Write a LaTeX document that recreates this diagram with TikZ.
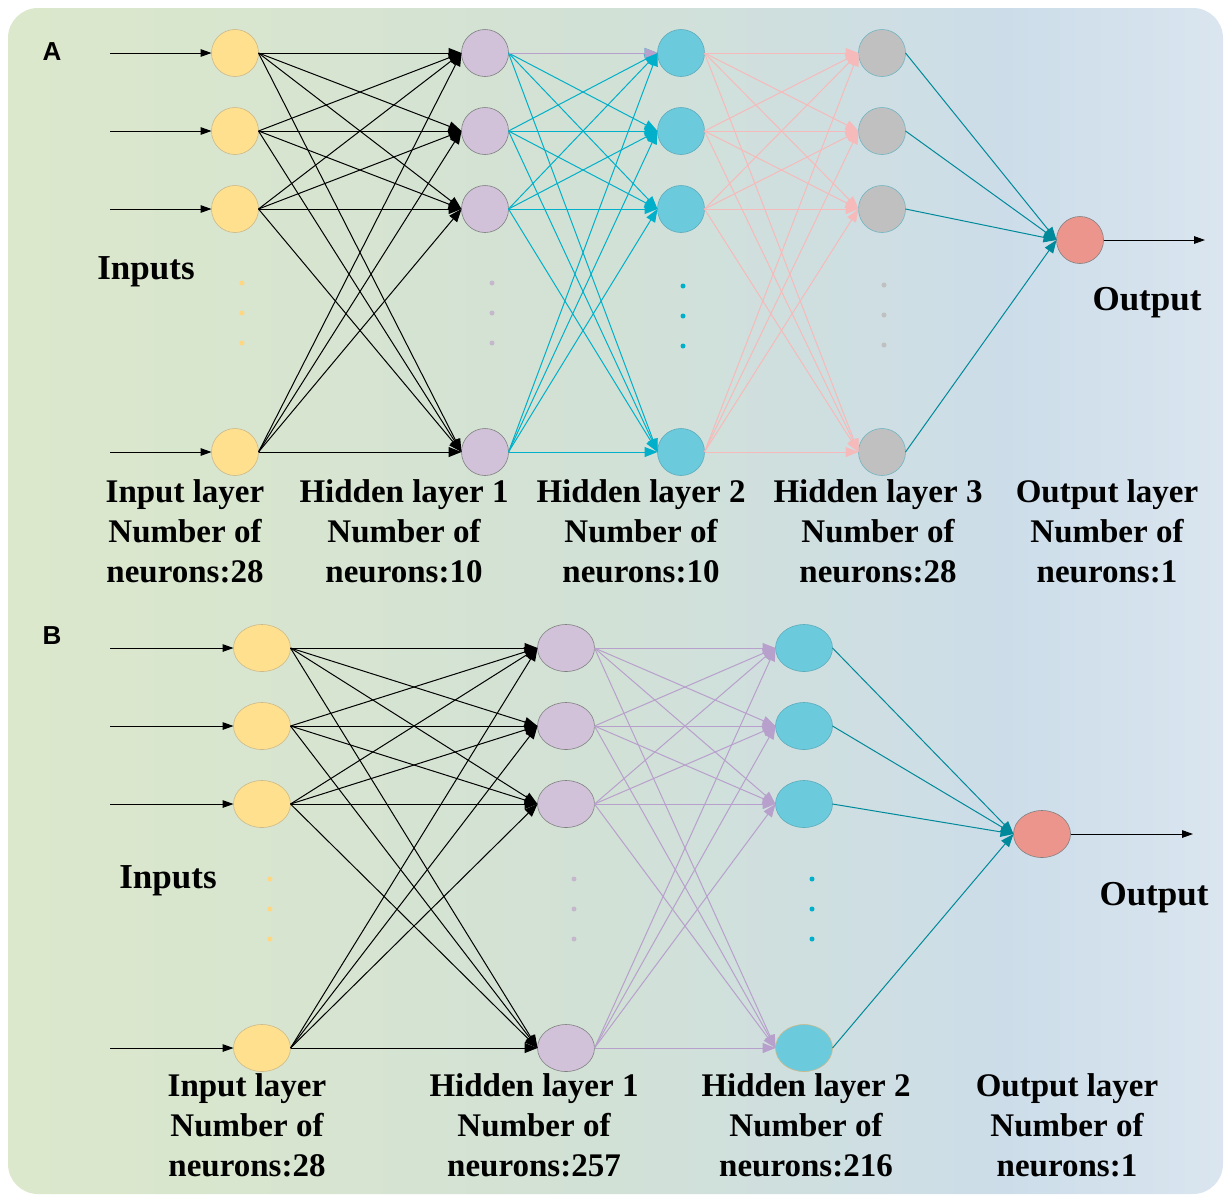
\documentclass[tikz,border=0pt]{standalone}
\usepackage{fontspec}
\setmainfont{Liberation Serif}
\setsansfont{Liberation Sans}
\usetikzlibrary{arrows.meta,shapes.geometric}
\definecolor{colorin}{RGB}{255,224,143}
\definecolor{colorhp}{RGB}{209,194,218}
\definecolor{colorhc}{RGB}{108,202,221}
\definecolor{colorhg}{RGB}{192,192,192}
\definecolor{colorout}{RGB}{236,149,140}
\definecolor{edgecyan}{RGB}{0,176,202}
\definecolor{edgepink}{RGB}{246,186,186}
\definecolor{edgepurple}{RGB}{184,160,204}
\definecolor{edgeteal}{RGB}{0,137,154}
\definecolor{bgA}{RGB}{220,232,203}
\definecolor{bgB}{RGB}{210,225,213}
\definecolor{bgC}{RGB}{204,221,233}
\definecolor{bgD}{RGB}{218,229,239}
\pgfdeclarehorizontalshading{bgshade}{100bp}{color(0bp)=(bgA); color(25bp)=(bgA);
  color(49bp)=(bgB); color(66bp)=(bgC); color(75bp)=(bgD); color(100bp)=(bgD)}

\begin{document}
\begin{tikzpicture}[x=0.5pt,y=-0.5pt,
  every node/.style={inner sep=0pt, outer sep=0pt},
  neuron/.style={circle, minimum size=23.5pt, line width=0.3pt},
  oval/.style={ellipse, minimum width=28.5pt, minimum height=23.5pt, line width=0.3pt},
  edge/.style={line width=0.5pt, -{Triangle[length=6.5pt,width=5pt]}},
  inarrow/.style={line width=0.5pt, -{Triangle[length=5.5pt,width=3.8pt]}},
  layerlabel/.style={align=center, font=\bfseries\fontsize{16.5}{20}\selectfont},
  biglabel/.style={font=\bfseries\fontsize{17.5}{21}\selectfont},
  panel/.style={font=\sffamily\bfseries\fontsize{13}{15}\selectfont}]

\useasboundingbox (0,0) rectangle (1225,1195);
\shade[shading=bgshade, rounded corners=15pt] (8,8) rectangle (1223,1194);

% ---- A ----
\node[panel] (labA) at (52,52) {A};
\node[neuron, fill=colorin, draw=colorin!60!gray] (a0-1) at (235,53) {};
\node[neuron, fill=colorin, draw=colorin!60!gray] (a0-2) at (235,131) {};
\node[neuron, fill=colorin, draw=colorin!60!gray] (a0-3) at (235,209) {};
\node[neuron, fill=colorin, draw=colorin!60!gray] (a0-4) at (235,452) {};

\node[neuron, fill=colorhp, draw=gray] (a1-1) at (485,53) {};
\node[neuron, fill=colorhp, draw=gray] (a1-2) at (485,131) {};
\node[neuron, fill=colorhp, draw=gray] (a1-3) at (485,209) {};
\node[neuron, fill=colorhp, draw=gray] (a1-4) at (485,452) {};

\node[neuron, fill=colorhc, draw=colorhc!85!black] (a2-1) at (681,53) {};
\node[neuron, fill=colorhc, draw=colorhc!85!black] (a2-2) at (681,131) {};
\node[neuron, fill=colorhc, draw=colorhc!85!black] (a2-3) at (681,209) {};
\node[neuron, fill=colorhc, draw=colorhc!85!black] (a2-4) at (681,452) {};

\node[neuron, fill=colorhg, draw=colorhc!70!gray] (a3-1) at (882,53) {};
\node[neuron, fill=colorhg, draw=colorhc!70!gray] (a3-2) at (882,131) {};
\node[neuron, fill=colorhg, draw=colorhc!70!gray] (a3-3) at (882,209) {};
\node[neuron, fill=colorhg, draw=colorhc!70!gray] (a3-4) at (882,452) {};

\node[neuron, fill=colorout, draw=gray] (a4) at (1080,240) {};

\foreach \i/\y in {1/53,2/131,3/209,4/452}{
  \coordinate (ain\i) at (110,\y);
  \draw[inarrow] (ain\i) -- (a0-\i);
}
\coordinate (aout) at (1205,240);
\draw[inarrow] (a4) -- (aout);

\foreach \i in {1,...,4}{
  \foreach \j in {1,...,4}{
    \draw[edge, black] (a0-\i.east) -- (a1-\j.west);
    \draw[edge, edgecyan] (a1-\i.east) -- (a2-\j.west);
    \draw[edge, edgepink] (a2-\i.east) -- (a3-\j.west);
  }
  \draw[edge, edgeteal] (a3-\i.east) -- (a4.west);
}
\draw[edge, edgepurple] (a1-1.east) -- (a2-1.west);

\foreach \y in {283,313,343}{
  \fill[colorin!90!orange] (242,\y) circle (2.5);
  \fill[colorhp!85!gray] (492,\y) circle (2.5);
  \fill[edgecyan] (683,\y+3) circle (2.5);
  \fill[colorhg] (884,\y+2) circle (2.5);
}

\node[biglabel] (ainputs) at (146,272) {Inputs};
\node[biglabel] (aoutput) at (1147,303) {Output};
\node[layerlabel] (alab0) at (185,531) {Input layer\\Number of\\neurons:28};
\node[layerlabel] (alab1) at (404,531) {Hidden layer 1\\Number of\\neurons:10};
\node[layerlabel] (alab2) at (641,531) {Hidden layer 2\\Number of\\neurons:10};
\node[layerlabel] (alab3) at (878,531) {Hidden layer 3\\Number of\\neurons:28};
\node[layerlabel] (alab4) at (1107,531) {Output layer\\Number of\\neurons:1};

% ---- B ----
\node[panel] (labB) at (52,636) {B};
\node[oval, fill=colorin, draw=colorin!60!gray] (b0-1) at (262,648) {};
\node[oval, fill=colorin, draw=colorin!60!gray] (b0-2) at (262,726) {};
\node[oval, fill=colorin, draw=colorin!60!gray] (b0-3) at (262,804) {};
\node[oval, fill=colorin, draw=colorin!60!gray] (b0-4) at (262,1048) {};

\node[oval, fill=colorhp, draw=gray] (b1-1) at (566,648) {};
\node[oval, fill=colorhp, draw=gray] (b1-2) at (566,726) {};
\node[oval, fill=colorhp, draw=gray] (b1-3) at (566,804) {};
\node[oval, fill=colorhp, draw=gray] (b1-4) at (566,1048) {};

\node[oval, fill=colorhc, draw=colorhc!85!black] (b2-1) at (804,648) {};
\node[oval, fill=colorhc, draw=colorhc!85!black] (b2-2) at (804,726) {};
\node[oval, fill=colorhc, draw=colorhc!85!black] (b2-3) at (804,804) {};
\node[oval, fill=colorhc, draw=colorin!60!gray] (b2-4) at (804,1048) {};

\node[oval, fill=colorout, draw=gray] (b3) at (1042,834) {};

\foreach \i/\y in {1/648,2/726,3/804,4/1048}{
  \coordinate (bin\i) at (110,\y);
  \draw[inarrow] (bin\i) -- (b0-\i);
}
\coordinate (bout) at (1193,834);
\draw[inarrow] (b3) -- (bout);

\foreach \i in {1,...,4}{
  \foreach \j in {1,...,4}{
    \draw[edge, black] (b0-\i.east) -- (b1-\j.west);
    \draw[edge, edgepurple] (b1-\i.east) -- (b2-\j.west);
  }
  \draw[edge, edgeteal] (b2-\i.east) -- (b3.west);
}

\foreach \y in {879,909,939}{
  \fill[colorin!90!orange] (270,\y) circle (2.5);
  \fill[colorhp!85!gray] (574,\y) circle (2.5);
  \fill[edgecyan] (812,\y) circle (2.5);
}

\node[biglabel] (binputs) at (168,881) {Inputs};
\node[biglabel] (boutput) at (1154,898) {Output};
\node[layerlabel] (blab0) at (247,1125) {Input layer\\Number of\\neurons:28};
\node[layerlabel] (blab1) at (534,1125) {Hidden layer 1\\Number of\\neurons:257};
\node[layerlabel] (blab2) at (806,1125) {Hidden layer 2\\Number of\\neurons:216};
\node[layerlabel] (blab3) at (1067,1125) {Output layer\\Number of\\neurons:1};

\end{tikzpicture}
\end{document}
